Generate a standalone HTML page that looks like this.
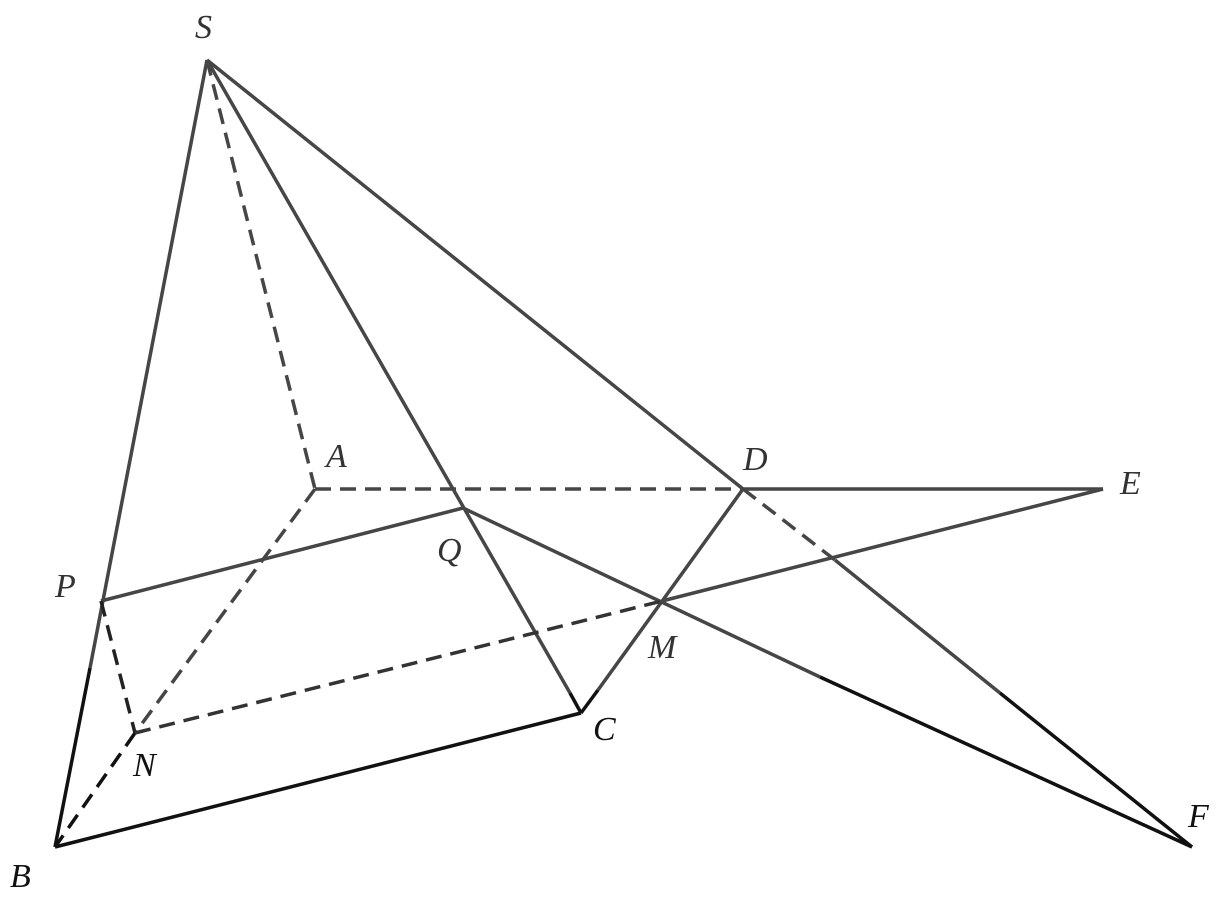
<!DOCTYPE html>
<html><head><style>html,body{margin:0;padding:0;background:#fff}svg{display:block}</style></head>
<body>
<svg width="1226" height="910" viewBox="0 0 1226 910" xmlns="http://www.w3.org/2000/svg">
<g stroke-width="3.5" fill="none" stroke-linecap="butt">
<!-- solid gray -->
<g stroke="#464646">
<line x1="207" y1="60" x2="90" y2="668"/>
<line x1="207" y1="60" x2="570" y2="693"/>
<line x1="207" y1="60" x2="743" y2="489"/>
<line x1="835" y1="560" x2="1000" y2="693"/>
<line x1="743" y1="489" x2="1103" y2="489"/>
<line x1="743" y1="489" x2="598" y2="690"/>
<line x1="101" y1="601" x2="463" y2="508"/>
<line x1="463" y1="508" x2="820" y2="677"/>
<line x1="662" y1="601" x2="1103" y2="489"/>
</g>
<!-- solid black -->
<g stroke="#111">
<line x1="90" y1="668" x2="55" y2="847"/>
<line x1="570" y1="693" x2="581" y2="713"/>
<line x1="598" y1="690" x2="581" y2="713"/>
<line x1="55" y1="847" x2="581" y2="713"/>
<line x1="1000" y1="693" x2="1192" y2="847"/>
<line x1="820" y1="677" x2="1192" y2="847"/>
</g>
<!-- dashed -->
<g stroke-dasharray="16,9">
<line x1="207" y1="60" x2="315" y2="489" stroke="#464646"/>
<line x1="315" y1="489" x2="743" y2="489" stroke="#464646"/>
<line x1="743" y1="489" x2="835" y2="560" stroke="#464646"/>
<line x1="315" y1="489" x2="135" y2="733" stroke="#464646"/>
<line x1="135" y1="733" x2="55" y2="847" stroke="#111"/>
<line x1="101" y1="601" x2="135" y2="733" stroke="#222"/>
<line x1="135" y1="733" x2="662" y2="601" stroke="#333"/>
</g>
</g>
<g font-family="Liberation Serif, serif" font-style="italic" font-size="34" fill="#333">
<text x="195" y="38">S</text>
<text x="326" y="467">A</text>
<text x="743" y="470">D</text>
<text x="1120" y="494">E</text>
<text x="55" y="597">P</text>
<text x="437" y="561">Q</text>
<text x="648" y="658">M</text>
<text x="593" y="740" fill="#111">C</text>
<text x="133" y="776" fill="#111">N</text>
<text x="10" y="887" fill="#111">B</text>
<text x="1188" y="827" fill="#111">F</text>
</g>
</svg>
</body></html>
